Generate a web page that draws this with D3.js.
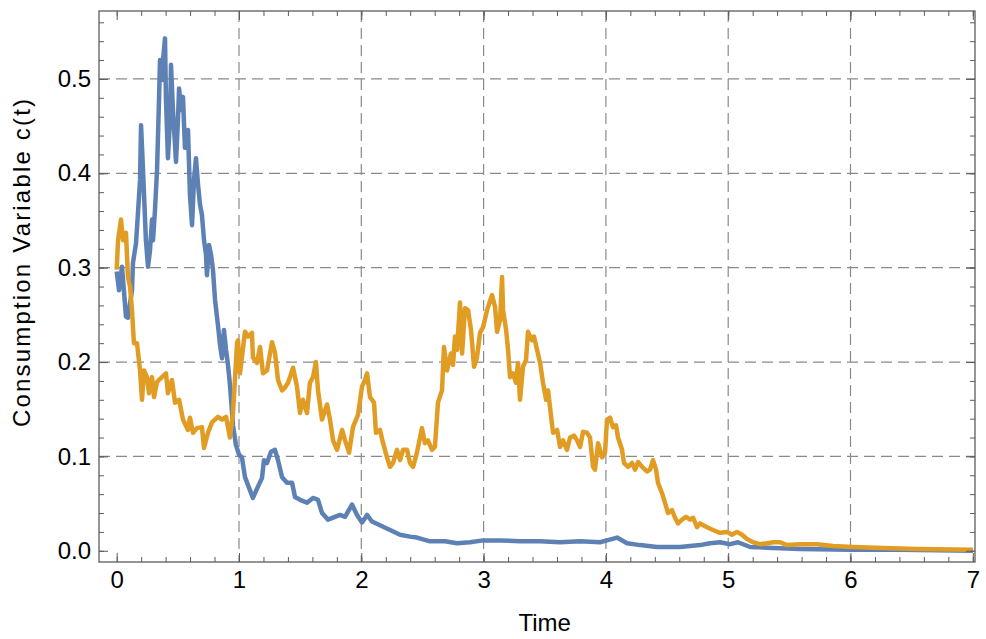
<!DOCTYPE html>
<html>
<head>
<meta charset="utf-8">
<script src="https://cdn.jsdelivr.net/npm/d3@7"></script>
<style>
  body { margin: 0; background: #fff; }
  text { font-family: "Liberation Sans", Arial, sans-serif; fill: #000; }
</style>
</head>
<body>
<svg id="chart" width="986" height="639"></svg>
<script>
// [time, c(t)]
const blueData = [[0,0.296],[0.019,0.276],[0.043,0.301],[0.052,0.287],[0.076,0.248],[0.092,0.247],[0.125,0.276],[0.133,0.305],[0.158,0.326],[0.174,0.358],[0.191,0.393],[0.199,0.451],[0.215,0.404],[0.239,0.329],[0.256,0.301],[0.272,0.318],[0.289,0.351],[0.297,0.329],[0.313,0.361],[0.33,0.404],[0.346,0.478],[0.354,0.520],[0.37,0.499],[0.379,0.520],[0.395,0.543],[0.403,0.478],[0.419,0.416],[0.436,0.457],[0.444,0.515],[0.46,0.467],[0.485,0.412],[0.501,0.457],[0.51,0.490],[0.526,0.467],[0.542,0.481],[0.558,0.427],[0.583,0.446],[0.599,0.377],[0.616,0.345],[0.632,0.393],[0.648,0.416],[0.665,0.388],[0.681,0.367],[0.697,0.356],[0.714,0.329],[0.73,0.314],[0.738,0.292],[0.755,0.324],[0.771,0.314],[0.787,0.298],[0.804,0.266],[0.828,0.239],[0.845,0.218],[0.861,0.204],[0.877,0.234],[0.894,0.213],[0.91,0.197],[0.926,0.176],[0.951,0.133],[0.975,0.112],[1.0,0.102],[1.024,0.099],[1.049,0.078],[1.09,0.064],[1.114,0.056],[1.155,0.068],[1.188,0.077],[1.204,0.096],[1.229,0.093],[1.262,0.105],[1.294,0.107],[1.319,0.096],[1.352,0.078],[1.393,0.072],[1.434,0.072],[1.458,0.057],[1.499,0.054],[1.556,0.051],[1.605,0.056],[1.646,0.054],[1.679,0.040],[1.728,0.033],[1.785,0.036],[1.826,0.038],[1.867,0.036],[1.924,0.049],[1.965,0.038],[2.006,0.030],[2.047,0.038],[2.087,0.031],[2.153,0.027],[2.235,0.022],[2.317,0.017],[2.398,0.015],[2.455,0.014],[2.562,0.010],[2.685,0.010],[2.783,0.008],[2.889,0.009],[2.996,0.011],[3.135,0.011],[3.298,0.010],[3.462,0.010],[3.625,0.009],[3.789,0.010],[3.952,0.009],[4.009,0.011],[4.091,0.014],[4.173,0.008],[4.279,0.006],[4.418,0.004],[4.606,0.004],[4.77,0.006],[4.851,0.008],[4.933,0.009],[5.015,0.007],[5.08,0.009],[5.179,0.004],[5.367,0.003],[5.587,0.002],[5.996,0.001],[6.405,0.001],[7.0,0.0]];

const orangeData = [[0,0.298],[0.011,0.329],[0.035,0.351],[0.052,0.329],[0.076,0.337],[0.092,0.290],[0.109,0.280],[0.125,0.255],[0.141,0.220],[0.166,0.220],[0.191,0.191],[0.207,0.160],[0.223,0.191],[0.248,0.184],[0.264,0.167],[0.289,0.184],[0.305,0.163],[0.33,0.179],[0.37,0.184],[0.403,0.188],[0.419,0.167],[0.452,0.181],[0.477,0.157],[0.51,0.160],[0.542,0.139],[0.583,0.128],[0.599,0.141],[0.624,0.125],[0.657,0.130],[0.697,0.131],[0.714,0.109],[0.746,0.125],[0.779,0.136],[0.828,0.142],[0.861,0.139],[0.894,0.142],[0.926,0.120],[0.951,0.146],[0.984,0.220],[0.992,0.223],[1.008,0.188],[1.049,0.232],[1.074,0.227],[1.106,0.231],[1.114,0.205],[1.147,0.199],[1.172,0.216],[1.196,0.188],[1.229,0.191],[1.27,0.221],[1.294,0.210],[1.319,0.181],[1.352,0.170],[1.376,0.173],[1.401,0.178],[1.417,0.184],[1.442,0.194],[1.474,0.174],[1.499,0.146],[1.523,0.160],[1.556,0.146],[1.58,0.178],[1.605,0.184],[1.629,0.200],[1.646,0.170],[1.679,0.139],[1.72,0.155],[1.744,0.139],[1.769,0.117],[1.802,0.107],[1.843,0.128],[1.867,0.117],[1.9,0.104],[1.932,0.131],[1.973,0.144],[2.006,0.174],[2.03,0.181],[2.047,0.188],[2.071,0.163],[2.104,0.157],[2.12,0.125],[2.153,0.128],[2.178,0.114],[2.21,0.099],[2.235,0.089],[2.259,0.093],[2.292,0.107],[2.317,0.096],[2.341,0.107],[2.374,0.107],[2.398,0.093],[2.423,0.089],[2.455,0.104],[2.496,0.130],[2.52,0.114],[2.545,0.117],[2.578,0.107],[2.602,0.110],[2.627,0.157],[2.66,0.170],[2.676,0.216],[2.701,0.191],[2.733,0.209],[2.75,0.197],[2.766,0.227],[2.783,0.213],[2.807,0.263],[2.824,0.209],[2.848,0.257],[2.873,0.255],[2.897,0.234],[2.922,0.195],[2.946,0.205],[2.971,0.231],[2.996,0.237],[3.028,0.255],[3.069,0.271],[3.094,0.258],[3.11,0.232],[3.135,0.245],[3.151,0.290],[3.159,0.255],[3.184,0.234],[3.2,0.213],[3.216,0.184],[3.24,0.188],[3.265,0.178],[3.281,0.199],[3.298,0.160],[3.322,0.195],[3.347,0.202],[3.363,0.232],[3.396,0.223],[3.412,0.227],[3.437,0.213],[3.462,0.199],[3.486,0.178],[3.511,0.160],[3.527,0.170],[3.552,0.142],[3.568,0.125],[3.601,0.128],[3.625,0.110],[3.65,0.117],[3.682,0.107],[3.707,0.120],[3.74,0.122],[3.764,0.117],[3.789,0.110],[3.813,0.126],[3.846,0.125],[3.87,0.120],[3.895,0.089],[3.911,0.086],[3.936,0.114],[3.969,0.099],[3.993,0.104],[4.009,0.139],[4.034,0.141],[4.058,0.131],[4.083,0.133],[4.099,0.120],[4.132,0.107],[4.148,0.093],[4.181,0.089],[4.214,0.093],[4.238,0.086],[4.263,0.094],[4.296,0.089],[4.32,0.086],[4.336,0.084],[4.361,0.086],[4.385,0.096],[4.41,0.086],[4.426,0.072],[4.459,0.061],[4.483,0.051],[4.508,0.040],[4.541,0.043],[4.565,0.035],[4.59,0.029],[4.623,0.033],[4.655,0.036],[4.688,0.033],[4.713,0.035],[4.745,0.025],[4.77,0.029],[4.827,0.025],[4.876,0.022],[4.933,0.019],[4.99,0.020],[5.031,0.017],[5.072,0.020],[5.113,0.017],[5.154,0.0125],[5.203,0.009],[5.26,0.007],[5.318,0.008],[5.367,0.009],[5.424,0.009],[5.481,0.006],[5.587,0.007],[5.726,0.007],[5.857,0.005],[6.02,0.004],[6.266,0.003],[6.544,0.002],[7.0,0.001]];

const xTicks = [0, 1, 2, 3, 4, 5, 6, 7];
const yTicks = [0, 0.1, 0.2, 0.3, 0.4, 0.5];
const xGrid = [1, 2, 3, 4, 5, 6];
const yGrid = [0.1, 0.2, 0.3, 0.4, 0.5];
const xMinor = d3.range(0, 7.01, 0.2);
const yMinor = d3.range(0, 0.561, 0.02);

const svg = d3.select('#chart');
const L = 99, R = 975, T = 11, B = 562;

const x = d3.scaleLinear().domain([-0.1447, 7.018]).range([L, R]);
const y = d3.scaleLinear().domain([-0.0119, 0.572]).range([B, T]);

// dashed grid
svg.append('g')
  .selectAll('line')
  .data(xGrid)
  .join('line')
    .attr('x1', d => x(d)).attr('x2', d => x(d))
    .attr('y1', T).attr('y2', B)
    .attr('stroke', '#8a8a8a').attr('stroke-width', 1.2)
    .attr('stroke-dasharray', '11,6');
svg.append('g')
  .selectAll('line')
  .data(yGrid)
  .join('line')
    .attr('x1', L).attr('x2', R)
    .attr('y1', d => y(d)).attr('y2', d => y(d))
    .attr('stroke', '#8a8a8a').attr('stroke-width', 1.2)
    .attr('stroke-dasharray', '11,6');

svg.append('clipPath').attr('id', 'clip')
  .append('rect').attr('x', L).attr('y', T).attr('width', R - L).attr('height', B - T);

const line = d3.line().x(d => x(d[0])).y(d => y(d[1]));

svg.append('path')
  .datum(blueData)
  .attr('clip-path', 'url(#clip)')
  .attr('fill', 'none')
  .attr('stroke', '#5e81b5')
  .attr('stroke-width', 4.5)
  .attr('stroke-linejoin', 'round')
  .attr('d', line);

svg.append('path')
  .datum(orangeData)
  .attr('clip-path', 'url(#clip)')
  .attr('fill', 'none')
  .attr('stroke', '#e19c24')
  .attr('stroke-width', 4.5)
  .attr('stroke-linejoin', 'round')
  .attr('d', line);

// axes: ticks point inward, on all four sides
const frameCol = '#5c5c5c';
function styleAxis(g) {
  g.select('.domain').remove();
  g.selectAll('.tick line').attr('stroke', frameCol);
  g.selectAll('.tick text').attr('font-size', 24).attr('fill', '#000');
}

svg.append('g').attr('transform', `translate(0,${B})`)
  .call(d3.axisBottom(x).tickValues(xMinor).tickSize(-5).tickFormat(''))
  .call(styleAxis);
svg.append('g').attr('transform', `translate(0,${B})`)
  .call(d3.axisBottom(x).tickValues(xTicks).tickSize(-9).tickPadding(9).tickFormat(d3.format('d')))
  .call(styleAxis);
svg.append('g').attr('transform', `translate(0,${T})`)
  .call(d3.axisTop(x).tickValues(xMinor).tickSize(-5).tickFormat(''))
  .call(styleAxis);
svg.append('g').attr('transform', `translate(0,${T})`)
  .call(d3.axisTop(x).tickValues(xTicks).tickSize(-9).tickFormat(''))
  .call(styleAxis);

svg.append('g').attr('transform', `translate(${L},0)`)
  .call(d3.axisLeft(y).tickValues(yMinor).tickSize(-5).tickFormat(''))
  .call(styleAxis);
svg.append('g').attr('transform', `translate(${L},0)`)
  .call(d3.axisLeft(y).tickValues(yTicks).tickSize(-9).tickPadding(8).tickFormat(d3.format('.1f')))
  .call(styleAxis);
svg.append('g').attr('transform', `translate(${R},0)`)
  .call(d3.axisRight(y).tickValues(yMinor).tickSize(-5).tickFormat(''))
  .call(styleAxis);
svg.append('g').attr('transform', `translate(${R},0)`)
  .call(d3.axisRight(y).tickValues(yTicks).tickSize(-9).tickFormat(''))
  .call(styleAxis);

svg.append('rect')
  .attr('x', L).attr('y', T).attr('width', R - L).attr('height', B - T)
  .attr('fill', 'none').attr('stroke', frameCol).attr('stroke-width', 1.3);

svg.append('text')
  .attr('x', x(3.5)).attr('y', 631)
  .attr('text-anchor', 'middle').attr('font-size', 24)
  .text('Time');

svg.append('text')
  .attr('transform', 'translate(30,263) rotate(-90)')
  .attr('text-anchor', 'middle').attr('font-size', 24)
  .attr('textLength', 328).attr('lengthAdjust', 'spacing')
  .text('Consumption Variable c(t)');
</script>
</body>
</html>
